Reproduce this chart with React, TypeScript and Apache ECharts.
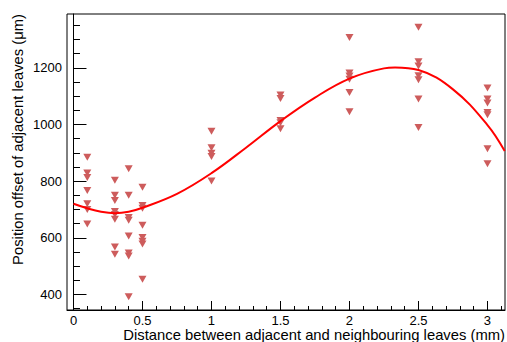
import React, { useEffect, useRef } from "react";
import * as echarts from "echarts";

// Measured offsets (µm) at each leaf distance (mm)
const distances = [0.1, 0.3, 0.4, 0.5, 1, 1.5, 2, 2.5, 3];
const offsetsAt01 = [884, 829, 813, 767, 720, 700, 649];
const offsetsAt03 = [803, 750, 732, 693, 682, 665, 567, 542];
const offsetsAt04 = [844, 750, 672, 662, 606, 546, 536, 392];
const offsetsAt05 = [778, 714, 704, 644, 601, 588, 578, 454];
const offsetsAt10 = [976, 918, 898, 887, 800];
const offsetsAt15 = [1104, 1092, 1014, 1006, 985];
const offsetsAt20 = [1307, 1182, 1171, 1160, 1113, 1045];
const offsetsAt25 = [1343, 1221, 1206, 1172, 1158, 1090, 989];
const offsetsAt30 = [1129, 1090, 1076, 1042, 1034, 914, 861];
const offsetGroups = [
  offsetsAt01, offsetsAt03, offsetsAt04, offsetsAt05, offsetsAt10,
  offsetsAt15, offsetsAt20, offsetsAt25, offsetsAt30,
];

// Fitted curve
const fitX = [0, 0.1, 0.2, 0.3, 0.4, 0.5, 0.75, 1, 1.25, 1.5, 1.75, 2, 2.25, 2.33, 2.5, 2.75, 3, 3.125];
const fitY = [720, 704, 692, 687, 692, 706, 755, 828, 918, 1012, 1095, 1162, 1198, 1201, 1192, 1124, 998, 906];

// Ticks
const xMajorTicks = [0, 0.5, 1, 1.5, 2, 2.5, 3];
const xMinorTicks = [0, 0.1, 0.2, 0.3, 0.4, 0.5, 0.6, 0.7, 0.8, 0.9, 1, 1.1, 1.2, 1.3, 1.4, 1.5, 1.6, 1.7, 1.8, 1.9, 2, 2.1, 2.2, 2.3, 2.4, 2.5, 2.6, 2.7, 2.8, 2.9, 3, 3.1];
const yMajorTicks = [400, 600, 800, 1000, 1200];
const yMinorTicks = [350, 400, 450, 500, 550, 600, 650, 700, 750, 800, 850, 900, 950, 1000, 1050, 1100, 1150, 1200, 1250, 1300, 1350];

const xTitle = "Distance between adjacent and neighbouring leaves (mm)";
const yTitle = "Position offset of adjacent leaves (\u03bcm)";

const X_MIN = -0.047;
const X_MAX = 3.127;
const Y_MIN = 345;
const Y_MAX = 1390;

const FONT = "'Liberation Sans', Arial, Helvetica, sans-serif";

export default function App() {
  const ref = useRef<HTMLDivElement>(null);

  useEffect(() => {
    if (!ref.current) return;
    const chart = echarts.init(ref.current, undefined, { renderer: "svg" });

    const points: number[][] = [];
    distances.forEach((d, i) => {
      offsetGroups[i].forEach((v) => points.push([d, v]));
    });
    const curve = fitX.map((x, i) => [x, fitY[i]]);

    const baseX = {
      type: "value" as const,
      min: X_MIN,
      max: X_MAX,
      position: "bottom" as const,
      splitLine: { show: false },
    };
    const baseY = {
      type: "value" as const,
      min: Y_MIN,
      max: Y_MAX,
      position: "left" as const,
      splitLine: { show: false },
    };

    chart.setOption({
      animation: false,
      backgroundColor: "#fff",
      grid: {
        left: 67,
        right: 2,
        top: 14,
        bottom: 32,
        show: true,
        borderColor: "#000",
        borderWidth: 1,
        backgroundColor: "transparent",
      },
      xAxis: [
        {
          ...baseX,
          axisLine: { show: true, lineStyle: { color: "#000", width: 1 } },
          axisTick: {
            show: true,
            inside: true,
            length: 9,
            customValues: xMajorTicks,
            lineStyle: { color: "#000", width: 1 },
          },
          axisLabel: {
            show: true,
            customValues: xMajorTicks,
            formatter: (v: number) => String(v),
            margin: 4,
            color: "#000",
            fontSize: 13,
            fontFamily: FONT,
          },
        },
        {
          ...baseX,
          axisLine: { show: false },
          axisTick: {
            show: true,
            inside: true,
            length: 4,
            customValues: xMinorTicks,
            lineStyle: { color: "#000", width: 1 },
          },
          axisLabel: { show: false },
        },
      ],
      yAxis: [
        {
          ...baseY,
          axisLine: { show: true, lineStyle: { color: "#000", width: 1 } },
          axisTick: {
            show: true,
            inside: true,
            length: 13,
            customValues: yMajorTicks,
            lineStyle: { color: "#000", width: 1 },
          },
          axisLabel: {
            show: true,
            customValues: yMajorTicks,
            formatter: (v: number) => String(v),
            margin: 5,
            color: "#000",
            fontSize: 13,
            fontFamily: FONT,
          },
        },
        {
          ...baseY,
          axisLine: { show: false },
          axisTick: {
            show: true,
            inside: true,
            length: 6.5,
            customValues: yMinorTicks,
            lineStyle: { color: "#000", width: 1 },
          },
          axisLabel: { show: false },
        },
      ],
      graphic: [
        {
          type: "text",
          x: 505,
          y: 335,
          style: {
            text: xTitle,
            fill: "#000",
            font: `14.8px ${FONT}`,
            textAlign: "right",
            textVerticalAlign: "middle",
          },
        },
        {
          type: "text",
          x: 18,
          y: 14,
          rotation: Math.PI / 2,
          style: {
            text: yTitle,
            fill: "#000",
            font: `14.8px ${FONT}`,
            textAlign: "right",
            textVerticalAlign: "middle",
          },
        },
      ],
      series: [
        {
          type: "scatter",
          xAxisIndex: 0,
          yAxisIndex: 0,
          data: points,
          symbol: "triangle",
          symbolRotate: 180,
          symbolSize: [8, 7],
          itemStyle: { color: "#cd5c5c", opacity: 1 },
          z: 2,
        },
        {
          type: "line",
          xAxisIndex: 0,
          yAxisIndex: 0,
          data: curve,
          smooth: 0.4,
          showSymbol: false,
          symbol: "none",
          lineStyle: { color: "#ff0000", width: 2 },
          z: 3,
        },
      ],
    });

    return () => chart.dispose();
  }, []);

  return (
    <div
      ref={ref}
      style={{ position: "fixed", left: 0, top: 0, width: 507, height: 342 }}
    />
  );
}
